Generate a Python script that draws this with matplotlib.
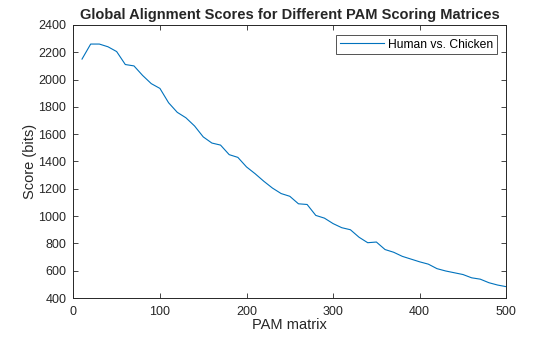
import matplotlib
matplotlib.use("Agg")
import matplotlib.pyplot as plt
import numpy as np

plt.rcParams['font.family'] = ['Liberation Sans', 'DejaVu Sans']

pam = list(range(10, 501, 10))
score = [2150, 2260, 2260, 2240, 2205, 2110, 2100, 2030, 1970, 1935,
         1830, 1760, 1720, 1660, 1580, 1535, 1520, 1450, 1430, 1360,
         1310, 1255, 1205, 1165, 1145, 1090, 1085, 1005, 985, 945,
         915, 900, 845, 805, 810, 755, 735, 705, 685, 665,
         648, 615, 598, 585, 572, 548, 538, 512, 495, 483]

fig = plt.figure(figsize=(5.6, 3.37), dpi=100)
ax = fig.add_axes([0.131, 0.1157, 0.773, 0.8103])
ax.plot(pam, score, color='#0072BD', linewidth=0.8, label='Human vs. Chicken')

ax.set_xlim(0, 500)
ax.set_ylim(400, 2400)
ax.set_xticks(range(0, 501, 100))
ax.set_yticks(range(400, 2401, 200))
ax.tick_params(direction='in', top=True, right=True, labelsize=9,
               length=3.5, width=0.6, colors='#262626')
ax.tick_params(axis='x', pad=5.5)
ax.tick_params(axis='y', pad=5)
for s in ax.spines.values():
    s.set_linewidth(0.7)
    s.set_color('#262626')

ax.set_xlabel('PAM matrix', fontsize=10.5, color='#262626', labelpad=0.5)
ax.set_ylabel('Score (bits)', fontsize=10.5, color='#262626', labelpad=1)
ax.set_title('Global Alignment Scores for Different PAM Scoring Matrices',
             fontsize=10.5, fontweight='bold', color='#262626', pad=4)

leg = ax.legend(loc='upper right', bbox_to_anchor=(0.979, 0.963),
                fontsize=8.7, frameon=True, fancybox=False,
                edgecolor='#262626', handlelength=3.6, borderaxespad=0,
                borderpad=0.3, handletextpad=0.4)
leg.get_frame().set_linewidth(0.7)

fig.savefig('out.png', dpi=100)
